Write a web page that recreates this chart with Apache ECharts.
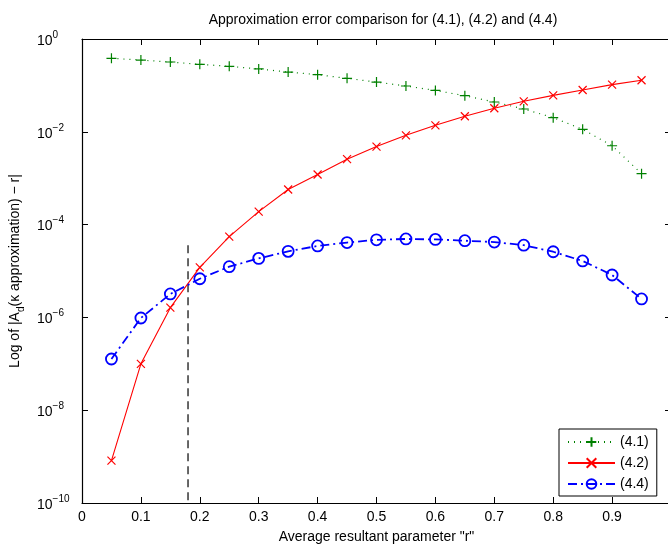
<!DOCTYPE html>
<html>
<head>
<meta charset="utf-8">
<script src="https://cdn.jsdelivr.net/npm/echarts@6/dist/echarts.min.js"></script>
<style>
html,body{margin:0;padding:0;background:#fff;overflow:hidden;}
#chart{width:668px;height:546px;}
</style>
</head>
<body>
<div id="chart"></div>
<script>
// ---- data ----
const rValues = [0.05,0.10,0.15,0.20,0.25,0.30,0.35,0.40,0.45,0.50,0.55,0.60,0.65,0.70,0.75,0.80,0.85,0.90,0.95];
const err41 = [0.384,0.352,0.319,0.285,0.258,0.226,0.194,0.170,0.142,0.118,0.097,0.078,0.060,0.0439,0.031,0.0202,0.0113,0.0050,0.00125];
const err42 = [8.2e-10,1.0e-7,1.62e-6,1.2e-5,5.5e-5,1.9e-4,5.7e-4,1.2e-3,2.57e-3,4.8e-3,8.4e-3,1.38e-2,2.16e-2,3.21e-2,4.54e-2,6.1e-2,7.96e-2,0.104,0.129];
const err44 = [1.27e-7,9.7e-7,3.2e-6,6.8e-6,1.24e-5,1.87e-5,2.65e-5,3.47e-5,4.1e-5,4.7e-5,4.9e-5,4.8e-5,4.5e-5,4.2e-5,3.6e-5,2.6e-5,1.65e-5,8.2e-6,2.5e-6];
const seriesNames = ['(4.1)','(4.2)','(4.4)'];
const crossX = [0.18, 0.18];
const crossY = [3.6e-5, 1e-10];
const xTicks = ['0','0.1','0.2','0.3','0.4','0.5','0.6','0.7','0.8','0.9'];

const FONT = '"Liberation Sans", Arial, sans-serif';
const pair = (xs, ys) => xs.map((x, i) => [x, ys[i]]);

const chart = echarts.init(document.getElementById('chart'), null, {renderer: 'canvas'});

const yLabelFmt = v => {
  const e = Math.round(Math.log10(v));
  return '{b|10}{e|' + (e < 0 ? '\u2212' + (-e) : e) + '}';
};
const yRich = {
  b: {fontSize: 14, fontFamily: FONT, color: '#000', lineHeight: 18, verticalAlign: 'bottom'},
  e: {fontSize: 10, fontFamily: FONT, color: '#000', lineHeight: 10, verticalAlign: 'top'}
};

const option = {
  animation: false,
  backgroundColor: '#fff',
  title: {
    text: 'Approximation error comparison for (4.1), (4.2) and (4.4)',
    left: 378, top: 8, textAlign: 'center',
    textStyle: {fontFamily: FONT, fontSize: 14, fontWeight: 'normal', color: '#000'}
  },
  grid: {left: 82, top: 39, width: 589, height: 464, containLabel: false, outerBoundsMode: 'none'},
  legend: {
    data: seriesNames,
    orient: 'vertical',
    left: 559, top: 429,
    width: 100,
    padding: [6, 8, 5, 8],
    itemWidth: 47, itemHeight: 12, itemGap: 7,
    backgroundColor: '#fff',
    borderColor: '#000', borderWidth: 1, borderRadius: 0,
    textStyle: {fontFamily: FONT, fontSize: 14, color: '#000', padding: [0,0,0,0]}
  },
  xAxis: [{
    type: 'value', min: 0, max: 1, interval: 0.1, position: 'bottom',
    name: 'Average resultant parameter "r"', nameLocation: 'middle', nameGap: 27,
    nameTextStyle: {fontFamily: FONT, fontSize: 14, color: '#000'},
    axisLine: {show: true, onZero: false, lineStyle: {color: '#000', width: 1.2}},
    axisTick: {show: true, inside: true, length: 6, lineStyle: {color: '#000'}},
    axisLabel: {margin: 7, fontFamily: FONT, fontSize: 14, color: '#000',
      formatter: v => { const i = Math.round(v * 10); return i < xTicks.length ? xTicks[i] : ''; }},
    splitLine: {show: false}
  }, {
    type: 'value', min: 0, max: 1, interval: 0.1, position: 'top',
    axisLine: {show: true, onZero: false, lineStyle: {color: '#000', width: 1.2}},
    axisTick: {show: true, inside: true, length: 6, lineStyle: {color: '#000'}},
    axisLabel: {show: false}, splitLine: {show: false}
  }],
  yAxis: [{
    type: 'log', logBase: 10, min: 1e-10, max: 1, interval: 2, position: 'left',
    name: '{n|Log of |A}{s|d}{n|(\u03ba approximation) \u2212 r|}',
    nameLocation: 'middle', nameGap: 50, nameRotate: 90,
    nameTextStyle: {rich: {
      n: {fontFamily: FONT, fontSize: 14, color: '#000', lineHeight: 18, verticalAlign: 'top'},
      s: {fontFamily: FONT, fontSize: 10, color: '#000', lineHeight: 18, verticalAlign: 'bottom', padding: [7,0,0,0]}
    }},
    axisLine: {show: true, onZero: false, lineStyle: {color: '#000', width: 1.2}},
    axisTick: {show: true, inside: true, length: 6, lineStyle: {color: '#000'}},
    axisLabel: {margin: 45, align: 'left', formatter: yLabelFmt, rich: yRich},
    splitLine: {show: false}, minorTick: {show: false}
  }, {
    type: 'log', logBase: 10, min: 1e-10, max: 1, interval: 2, position: 'right',
    axisLine: {show: true, onZero: false, lineStyle: {color: '#000', width: 1.2}},
    axisTick: {show: true, inside: true, length: 6, lineStyle: {color: '#000'}},
    axisLabel: {show: false}, splitLine: {show: false}
  }],
  series: [{
    name: seriesNames[0], type: 'line', data: pair(rValues, err41),
    xAxisIndex: 0, yAxisIndex: 0,
    symbol: 'path://M5,0L5,10M0,5L10,5', symbolSize: 10, showSymbol: true,
    lineStyle: {color: '#008000', width: 1.2, type: [1, 5]},
    itemStyle: {color: 'rgba(0,0,0,0)', borderColor: '#008000', borderWidth: 1.2},
    silent: true, z: 3
  }, {
    name: seriesNames[1], type: 'line', data: pair(rValues, err42),
    xAxisIndex: 0, yAxisIndex: 0,
    symbol: 'path://M0,0L10,10M0,10L10,0', symbolSize: 8, showSymbol: true,
    lineStyle: {color: '#ff0000', width: 1.1, type: 'solid'},
    itemStyle: {color: 'rgba(0,0,0,0)', borderColor: '#ff0000', borderWidth: 1.2},
    silent: true, z: 4
  }, {
    name: seriesNames[2], type: 'line', data: pair(rValues, err44),
    xAxisIndex: 0, yAxisIndex: 0,
    symbol: 'circle', symbolSize: 11, showSymbol: true,
    lineStyle: {color: '#0000ff', width: 1.8, type: [9, 4, 2, 4]},
    itemStyle: {color: 'rgba(0,0,0,0)', borderColor: '#0000ff', borderWidth: 1.8},
    silent: true, z: 5
  }, {
    name: 'crossing', type: 'line', data: pair(crossX, crossY),
    xAxisIndex: 0, yAxisIndex: 0,
    symbol: 'none',
    lineStyle: {color: '#000', width: 1.2, type: [8, 5]},
    silent: true, z: 2
  }]
};
chart.setOption(option);
</script>
</body>
</html>
